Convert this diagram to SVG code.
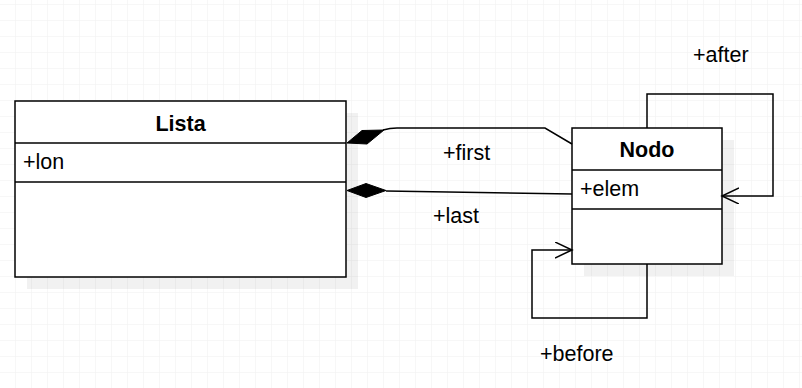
<svg xmlns="http://www.w3.org/2000/svg" width="802" height="388" viewBox="0 0 802 388">
  <defs>
    <pattern id="grid" x="15" y="4" width="16" height="16" patternUnits="userSpaceOnUse">
      <path d="M0 0 H16 M0 0 V16" fill="none" stroke="#efefef" stroke-width="1"/>
    </pattern>
    <marker id="open-arrow" markerWidth="20" markerHeight="20" refX="17" refY="8" orient="auto" markerUnits="userSpaceOnUse">
      <path d="M0 0 L17 8 L0 16" fill="none" stroke="#000" stroke-width="1.5"/>
    </marker>
    <style>
      .box { fill: #fff; stroke: #000; stroke-width: 1.5; }
      .shadow { fill: #000; fill-opacity: 0.055; }
      .sep { stroke: #000; stroke-width: 1.5; }
      .edge { fill: none; stroke: #000; stroke-width: 1.5; }
      .diamond { fill: #000; stroke: #000; stroke-width: 1; }
      text { font-family: "Liberation Sans", Arial, sans-serif; font-size: 21.5px; fill: #000; }
      .title { font-weight: bold; text-anchor: middle; }
    </style>
  </defs>

  <rect width="802" height="388" fill="#fff"/>
  <rect width="802" height="388" fill="url(#grid)"/>

  <!-- class Lista -->
  <g id="lista">
    <rect class="shadow" x="27" y="113" width="331" height="176"/>
    <rect class="box" x="15" y="101" width="331" height="176"/>
    <line class="sep" x1="15" y1="143" x2="346" y2="143"/>
    <line class="sep" x1="15" y1="182" x2="346" y2="182"/>
    <text class="title" x="180.5" y="131">Lista</text>
    <text x="23" y="169">+lon</text>
  </g>

  <!-- class Nodo -->
  <g id="nodo">
    <rect class="shadow" x="584" y="140" width="150" height="136"/>
    <rect class="box" x="572" y="128" width="150" height="136"/>
    <line class="sep" x1="572" y1="170" x2="722" y2="170"/>
    <line class="sep" x1="572" y1="209" x2="722" y2="209"/>
    <text class="title" x="647" y="157">Nodo</text>
    <text x="580" y="196">+elem</text>
  </g>

  <!-- associations -->
  <g id="connectors">
    <!-- +first : composition Lista -> Nodo -->
    <path class="edge" d="M572 144 L545 128 L397 128 Q390 128 383 130"/>
    <polygon class="diamond" points="347,143 362,130.5 384,130 367,144"/>
    <!-- +last : composition Lista -> Nodo -->
    <path class="edge" d="M572 194 L386 191"/>
    <polygon class="diamond" points="347,190.5 366,183.5 386,190.5 366,197.5"/>
    <!-- +after : self association -->
    <path class="edge" d="M647 128 V94 H773 V196 H722" marker-end="url(#open-arrow)"/>
    <!-- +before : self association -->
    <path class="edge" d="M647 264 V318 H532 V250 H572" marker-end="url(#open-arrow)"/>
  </g>

  <!-- role labels -->
  <g id="labels">
    <text x="443" y="160">+first</text>
    <text x="433" y="223">+last</text>
    <text x="693" y="62">+after</text>
    <text x="540" y="361">+before</text>
  </g>
</svg>
